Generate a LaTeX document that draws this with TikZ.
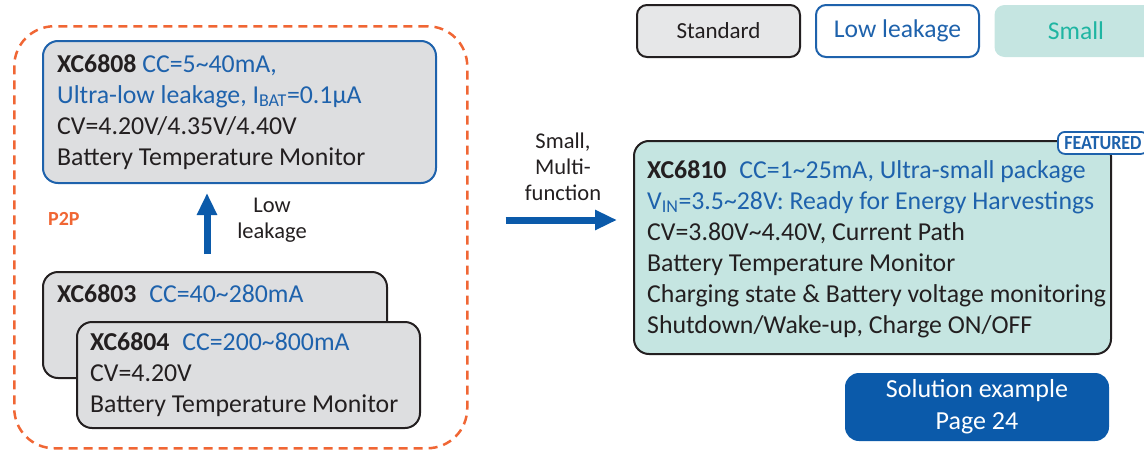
\documentclass[tikz,border=0pt]{standalone}
\usepackage{fontspec}
\setmainfont{Carlito}
\usepackage{tikz}
\usetikzlibrary{arrows.meta}
\usepackage{xcolor}
\definecolor{ccblue}{RGB}{30,98,172}
\definecolor{arrowblue}{RGB}{11,90,170}
\definecolor{inkdark}{RGB}{35,31,32}
\definecolor{chipgray}{RGB}{221,222,224}
\definecolor{legendgray}{RGB}{230,231,232}
\definecolor{smallteal}{RGB}{197,229,225}
\definecolor{tealtext}{RGB}{31,181,162}
\definecolor{p2porange}{RGB}{240,102,52}
\newcommand{\til}{\textasciitilde}
\newcommand{\bodysize}{\fontsize{25.8}{31}\selectfont}
\newcommand{\notesize}{\fontsize{22.5}{26}\selectfont}

\begin{document}
\begin{tikzpicture}[x=1pt,y=-1pt,line cap=round,color=inkdark,
  chip/.style={draw=inkdark,fill=chipgray,line width=2pt,rounded corners=15pt,inner sep=0pt,anchor=north west},
  chiptext/.style={anchor=base west,align=left,inner sep=0pt,font=\bodysize,text=inkdark},
  legend/.style={line width=2pt,rounded corners=10pt,minimum width=163pt,minimum height=52pt,inner sep=0pt},
  bigarrow/.style={arrowblue,line width=7pt,line cap=butt,-{Triangle[length=22pt,width=19pt]}},
  note/.style={align=center,font=\notesize,text=inkdark,inner sep=0pt}]
\useasboundingbox (0,0) rectangle (1144,450);
% P2P family
\node[draw=p2porange,line width=2.5pt,line cap=butt,dash pattern=on 9pt off 6pt,rounded corners=40pt,
  minimum width=453pt,minimum height=422pt,anchor=north west,inner sep=0pt] (p2pframe) at (13,25) {};
\node[text=p2porange,font=\bfseries\fontsize{20}{24}\selectfont,anchor=west,inner sep=0pt] (p2p) at (48,219) {P2P};
\node[chip,draw=ccblue,minimum width=393pt,minimum height=142pt] (xc6808) at (42,40) {};
\node[chiptext] (xc6808txt) at ([shift={(15,125)}]xc6808.north west)
  {\textbf{XC6808} \textcolor{ccblue}{CC=5\til40mA,}\\
   \textcolor{ccblue}{Ultra-low leakage, I\textsubscript{BAT}=0.1µA}\\
   CV=4.20V/4.35V/4.40V\\
   Battery Temperature Monitor};
\node[chip,minimum width=344pt,minimum height=106pt] (xc6803) at (42,271) {};
\node[chiptext] (xc6803txt) at ([shift={(15,31)}]xc6803.north west)
  {\textbf{XC6803}\hspace{0.5em}\textcolor{ccblue}{CC=40\til280mA}};
\node[chip,minimum width=343pt,minimum height=106pt] (xc6804) at (76,321) {};
\node[chiptext] (xc6804txt) at ([shift={(14,91)}]xc6804.north west)
  {\textbf{XC6804}\hspace{0.5em}\textcolor{ccblue}{CC=200\til800mA}\\
   CV=4.20V\\
   Battery Temperature Monitor};
\coordinate (leakx) at (207,0);
\draw[bigarrow,shorten <=17pt,shorten >=9pt] (leakx |- xc6803.north) -- (leakx |- xc6808.south);
\node[note] (leaklabel) at (272,220) {Low\\leakage};
% legend
\node[legend,draw=inkdark,fill=legendgray,text=inkdark,font=\fontsize{23}{27}\selectfont] (standard) at (718.5,31) {Standard};
\node[legend,draw=ccblue,fill=white,text=ccblue,font=\fontsize{25.6}{30}\selectfont] (lowleak) at (897.5,31) {Low leakage};
\node[legend,fill=smallteal,text=tealtext,font=\fontsize{25.6}{30}\selectfont] (small) at (1076,31) {Small};
% XC6810
\node[chip,fill=smallteal,minimum width=477pt,minimum height=213pt] (xc6810) at (633,140) {};
\node[chiptext] (xc6810txt) at ([shift={(14,193)}]xc6810.north west)
  {\textbf{XC6810}\hspace{0.5em}\textcolor{ccblue}{CC=1\til25mA, Ultra-small package}\\
   \textcolor{ccblue}{V\textsubscript{IN}=3.5\til28V: Ready for Energy Harvestings}\\
   CV=3.80V\til4.40V, Current Path\\
   Battery Temperature Monitor\\
   Charging state \& Battery voltage monitoring\\
   Shutdown/Wake-up, Charge ON/OFF};
\node[draw=ccblue,fill=white,line width=1.8pt,rounded corners=7pt,minimum width=90pt,minimum height=22pt,
  anchor=north west,inner sep=0pt,text=ccblue,font=\bfseries\fontsize{20}{22}\selectfont] (featured) at (1057,131) {\scalebox{0.9}[1]{FEATURED}};
\coordinate (multiy) at (0,220);
\draw[bigarrow,shorten <=37pt,shorten >=16pt] (multiy -| p2pframe.east) -- (multiy -| xc6810.west);
\node[note] (multilabel) at (563,167) {Small,\\Multi-\\function};
\node[fill=arrowblue,rounded corners=14pt,minimum width=264pt,minimum height=68pt,inner sep=0pt,
  text=white,align=center,font=\fontsize{26}{32}\selectfont] (solution) at (977,407) {Solution example\\Page 24};
\end{tikzpicture}
\end{document}
